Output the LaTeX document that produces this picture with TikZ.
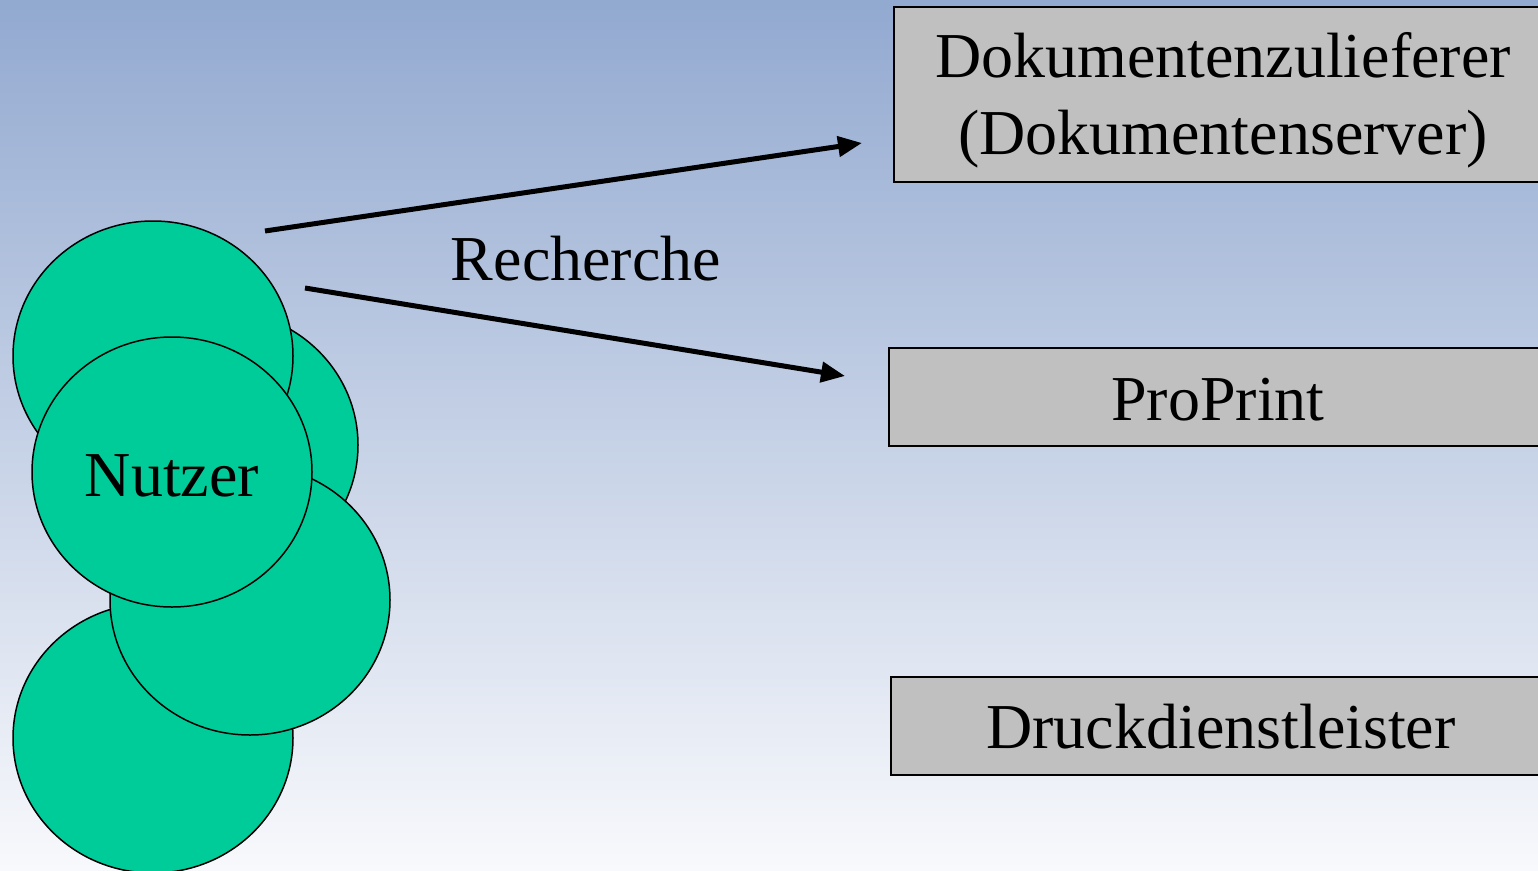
\documentclass[tikz,border=0pt]{standalone}
\usepackage{fontspec}
\setmainfont{Liberation Serif}
\usetikzlibrary{shapes.geometric,arrows.meta}
\definecolor{bgtop}{HTML}{92A9D0}
\definecolor{bgbot}{HTML}{F8F9FC}
\definecolor{blobfill}{HTML}{00CC99}
\definecolor{boxfill}{HTML}{C0C0C0}
\tikzset{
  blob/.style={ellipse, draw=black, line width=1.5pt, fill=blobfill,
    minimum width=280pt, minimum height=270pt, inner sep=0pt},
  rolebox/.style={draw=black, line width=1.8pt, fill=boxfill},
  bigtext/.style={font=\fontsize{64}{77}\selectfont, text=black},
  conn/.style={line width=5pt, -{Triangle[length=24pt,width=20pt]}}
}
\begin{document}
\begin{tikzpicture}[x=1pt,y=-1pt]
\useasboundingbox (0,0) rectangle (1538,870);
\clip (0,0) rectangle (1538,870);
\shade[top color=bgtop, bottom color=bgbot] (0,0) rectangle (1538,870);
% boxes
\draw[rolebox] (894,7) rectangle (1560,182);
\node[bigtext, align=center] (doku) at (1223,100) {Dokumentenzulieferer\\(Dokumentenserver)};
\draw[rolebox] (889,348) rectangle (1560,446);
\node[bigtext] (proprint) at (1218,400) {ProPrint};
\draw[rolebox] (891,677) rectangle (1560,775);
\node[bigtext] (druck) at (1221,727) {Druckdienstleister};
% user blobs
\node[blob] (c2) at (218,445) {};
\node[blob] (c1) at (153,356) {};
\node[blob] (c5) at (153,738) {};
\node[blob] (c4) at (250,600) {};
\node[blob] (nutzer) at (172,472) {};
\node[bigtext] (nutzerlabel) at (nutzer.center) [yshift=-4pt] {Nutzer};
% connectors
\coordinate (a1s) at (265,231);
\coordinate (a1e) at (862,143);
\coordinate (a2s) at (305,288);
\coordinate (a2e) at (845,376);
\draw[conn] (a1s) -- (a1e);
\draw[conn] (a2s) -- (a2e);
\node[bigtext] (recherche) at (586,259) {Recherche};
\end{tikzpicture}
\end{document}
